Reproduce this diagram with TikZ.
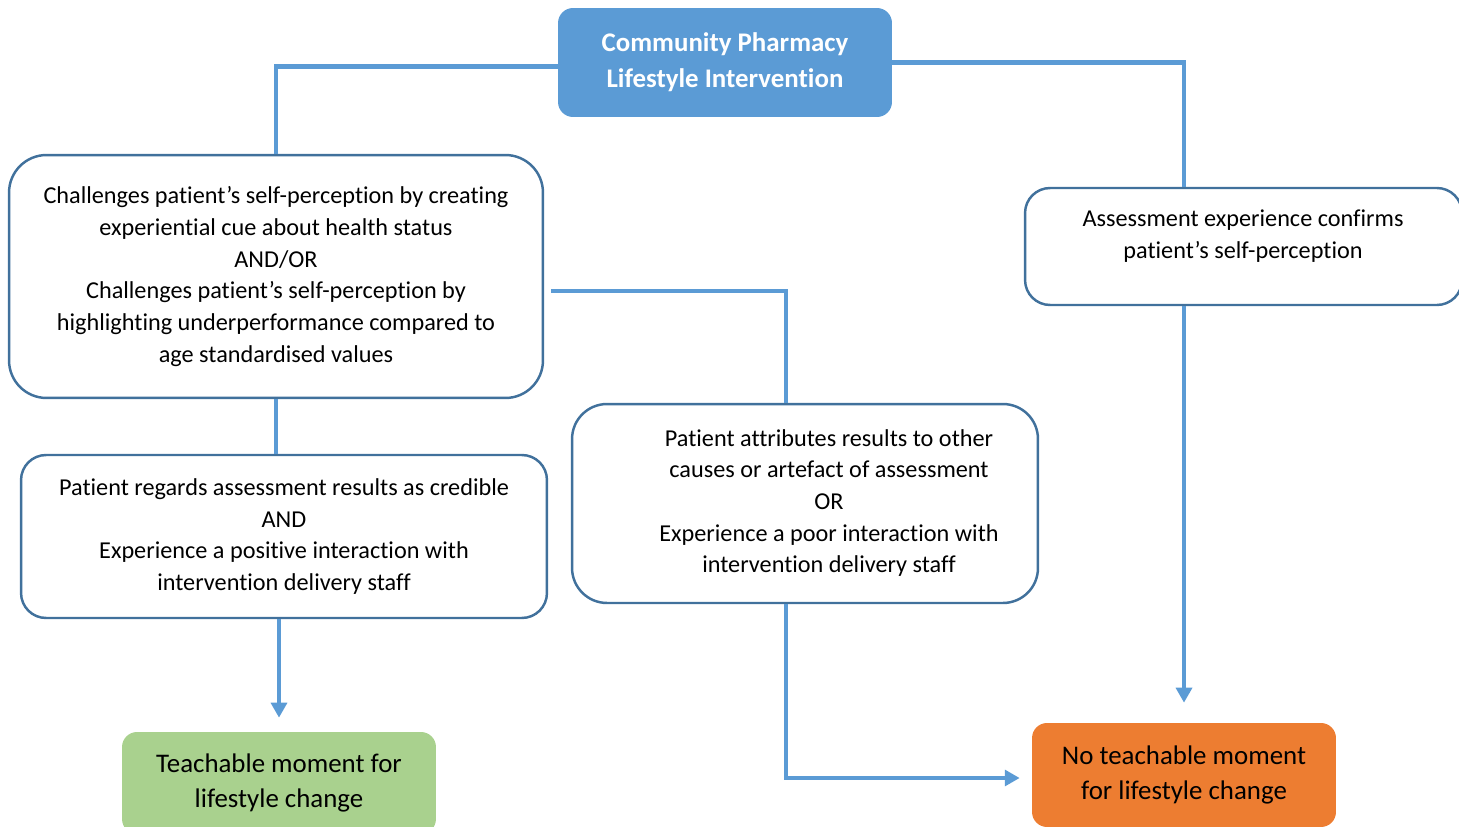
\documentclass[tikz,border=0pt]{standalone}
\usepackage{fontspec}
\setmainfont{Carlito}[Ligatures=NoCommon]
\usepackage{tikz}
\usetikzlibrary{arrows.meta,positioning}
\usepackage{xcolor}
\definecolor{pblue}{HTML}{5B9BD5}
\definecolor{edgeblue}{HTML}{41719C}
\definecolor{pgreen}{HTML}{A9D18E}
\definecolor{porange}{HTML}{ED7D31}

\begin{document}
\begin{tikzpicture}[
  x=0.02cm, y=-0.02cm,
  b/.style={draw=edgeblue, line width=1.4pt, fill=white, align=center, inner sep=0pt,
    font=\fontsize{13.8}{18}\selectfont},
  t/.style={align=center, inner sep=0pt, font=\fontsize{13.8}{18}\selectfont},
  hd/.style={fill=pblue, rounded corners=0.3cm, align=center, text=white,
    font=\fontsize{15.3}{20.4}\selectfont\bfseries, minimum width=6.68cm, minimum height=2.18cm},
  res/.style={rounded corners=0.3cm, align=center, font=\fontsize{15.3}{20.2}\selectfont},
  ln/.style={draw=pblue, line width=2.3pt},
  a/.style={ln, -{Triangle[length=8.5pt,width=9pt]}}
]
\useasboundingbox (0,0) rectangle (1459,827);
\clip (0,0) rectangle (1459,827);

% boxes
\node[hd] (comm) at (725,62.5) {Community Pharmacy\\Lifestyle Intervention};
\node[b, rounded corners=0.75cm, minimum width=10.68cm, minimum height=4.86cm] (ch) at (276,276.5)
  {Challenges patient’s self-perception by creating\\experiential cue about health status\\AND/OR\\
   Challenges patient’s self-perception by\\highlighting underperformance compared to\\age standardised values};
\node[b, rounded corners=0.5cm, minimum width=8.74cm, minimum height=2.34cm] (conf) at (1243.5,246.5) {};
\node[t] (conftxt) at (1243,236) {Assessment experience confirms\\patient’s self-perception};
\node[b, rounded corners=0.5cm, minimum width=10.52cm, minimum height=3.26cm] (cred) at (284,536.5)
  {Patient regards assessment results as credible\\AND\\Experience a positive interaction with\\intervention delivery staff};
\node[b, rounded corners=0.7cm, minimum width=9.32cm, minimum height=3.98cm] (attr) at (805,503.5) {};
\node[t] (attrtxt) at (829,503) {Patient attributes results to other\\causes or artefact of assessment\\OR\\
   Experience a poor interaction with\\intervention delivery staff};
\node[res, fill=pgreen, minimum width=6.28cm, minimum height=2.04cm] (grn) at (279,783)
  {Teachable moment for\\lifestyle change};
\node[res, fill=porange, minimum width=6.08cm, minimum height=2.08cm] (orng) at (1184,775)
  {No teachable moment\\for lifestyle change};

% connectors
\draw[ln] ([yshift=-0.08cm]comm.west) -| (ch.north);
\draw[ln] (comm.east) -| (orng |- conf.north);
\draw[ln] (ch.south) -- (ch.south |- cred.north);
\draw[ln] ([shift={(0.14cm,-0.29cm)}]ch.east) -| ([xshift=-0.38cm]attr.north);
\draw[a] (grn.north |- cred.south) -- ([yshift=0.28cm]grn.north);
\draw[a] ([xshift=-0.38cm]attr.south) |- ([shift={(-0.24cm,-0.06cm)}]orng.west);
\draw[a] (orng |- conf.south) -- ([yshift=0.4cm]orng.north);
\end{tikzpicture}
\end{document}
